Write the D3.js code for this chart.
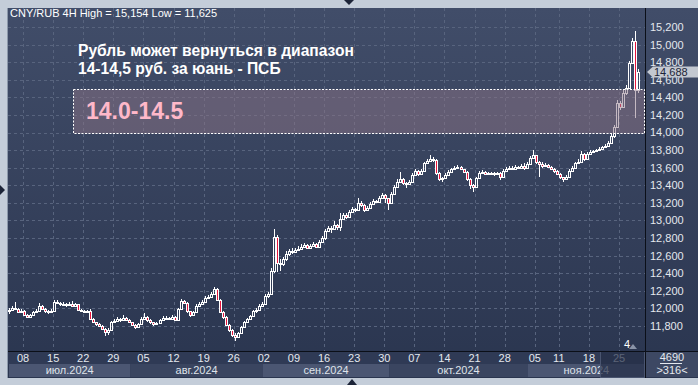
<!DOCTYPE html>
<html>
<head>
<meta charset="utf-8">
<script src="https://cdn.jsdelivr.net/npm/d3@7"></script>
<style>
body { margin: 0; background: #c4cdd9; }
svg { display: block; font-family: "Liberation Sans", Arial, sans-serif; }
</style>
</head>
<body>
<div id="chart"></div>
<script>
// CNY/RUB 4H candles, Jul 4 - Nov 28 2024 (two bars per trading day)
const firstOpen = 11970;
const closes = [
    11985, 12010, 11990, 11960, 11975, 11930, 11905, 11920, 11955, 11970,
    12030, 11990, 11965, 11955, 11975, 12075, 12060, 12045, 12050, 12040,
    12050, 12030, 12045, 11985, 11975, 11970, 11975, 11880, 11840, 11820,
    11800, 11770, 11730, 11760, 11840, 11860, 11880, 11865, 11890, 11870,
    11840, 11810, 11790, 11820, 11880, 11900, 11870, 11840, 11820, 11835,
    11870, 11890, 11895, 11880, 11900, 11865, 11990, 12085, 12065, 11965,
    11930, 11960, 12030, 12055, 12075, 12120, 12135, 12165, 12220, 12095,
    11960, 11900, 11810, 11750, 11700, 11680, 11720, 11790, 11840, 11880,
    11910, 11965, 11980, 12030, 12050, 12140, 12160, 12430, 12810, 12520,
    12500, 12560, 12620, 12650, 12640, 12660, 12680, 12700, 12720, 12690,
    12710, 12730, 12700, 12760, 12800, 12880, 12920, 12900, 12950, 12930,
    13020, 13060, 13040, 13100, 13130, 13120, 13200, 13180, 13120, 13140,
    13190, 13220, 13210, 13260, 13290, 13250, 13200, 13300, 13380, 13440,
    13470, 13430, 13410, 13440, 13520, 13560, 13530, 13560, 13650, 13680,
    13700, 13690, 13540, 13470, 13480, 13520, 13550, 13580, 13600, 13610,
    13580, 13550, 13470, 13400, 13380, 13480, 13540, 13550, 13530, 13540,
    13535, 13525, 13540, 13490, 13560, 13590, 13600, 13590, 13610, 13600,
    13620, 13600, 13640, 13710, 13740, 13660, 13640, 13620, 13630, 13610,
    13580, 13560, 13530, 13490, 13470, 13500, 13560, 13600, 13650, 13670,
    13760, 13700, 13760, 13780, 13790, 13800, 13810, 13830, 13850, 13880,
    13960, 14060, 14340, 14290, 14450, 14510, 14790, 15040, 14480, 14688
];
const highs = [
    12000, 12030, 12073, 12005, 11990, 11985, 11940, 11935, 11970, 11990,
    12065, 12040, 12000, 11980, 11990, 12095, 12090, 12070, 12075, 12060,
    12070, 12080, 12060, 12050, 11990, 11985, 11985, 11990, 11895, 11850,
    11830, 11810, 11780, 11775, 11855, 11880, 11900, 11890, 11920, 11900,
    11880, 11850, 11820, 11835, 11900, 11950, 11910, 11880, 11850, 11850,
    11885, 11910, 11915, 11905, 11920, 11910, 12005, 12110, 12100, 12075,
    11975, 11975, 12045, 12070, 12090, 12140, 12155, 12185, 12245, 12230,
    12105, 11975, 11910, 11825, 11765, 11720, 11735, 11805, 11860, 11895,
    11930, 11980, 12000, 12050, 12070, 12160, 12190, 12460, 12900, 12830,
    12560, 12580, 12650, 12680, 12690, 12690, 12710, 12730, 12740, 12730,
    12730, 12750, 12740, 12780, 12820, 12900, 12940, 12935, 12990, 12960,
    13080, 13085, 13080, 13120, 13150, 13145, 13260, 13220, 13190, 13160,
    13210, 13240, 13235, 13280, 13310, 13300, 13260, 13320, 13400, 13470,
    13550, 13480, 13440, 13460, 13540, 13580, 13570, 13580, 13670, 13700,
    13740, 13720, 13700, 13550, 13500, 13540, 13570, 13600, 13620, 13630,
    13620, 13590, 13560, 13480, 13420, 13500, 13560, 13570, 13560, 13555,
    13555, 13550, 13555, 13550, 13590, 13610, 13620, 13615, 13630, 13625,
    13640, 13650, 13660, 13730, 13800, 13750, 13680, 13660, 13650, 13645,
    13620, 13595, 13570, 13540, 13500, 13520, 13580, 13620, 13670, 13700,
    13790, 13770, 13775, 13800, 13805, 13815, 13830, 13850, 13870, 13900,
    13990, 14090, 14370, 14360, 14480, 14540, 14810, 15080, 15154, 14720
];
const lows = [
    11940, 11975, 11980, 11950, 11945, 11920, 11890, 11895, 11910, 11945,
    11960, 11980, 11950, 11940, 11945, 11970, 12045, 12030, 12035, 12020,
    12030, 12020, 12020, 11975, 11965, 11960, 11960, 11870, 11830, 11805,
    11785, 11750, 11690, 11700, 11750, 11830, 11850, 11850, 11855, 11860,
    11830, 11795, 11770, 11780, 11810, 11870, 11850, 11820, 11800, 11810,
    11825, 11860, 11880, 11865, 11870, 11855, 11860, 11980, 12050, 11950,
    11905, 11920, 11950, 12020, 12045, 12065, 12110, 12125, 12150, 12085,
    11950, 11885, 11795, 11730, 11680, 11625, 11660, 11710, 11780, 11830,
    11870, 11900, 11950, 11970, 12020, 12040, 12120, 12150, 12400, 12415,
    12420, 12480, 12540, 12600, 12620, 12630, 12650, 12665, 12690, 12670,
    12680, 12700, 12690, 12690, 12750, 12780, 12870, 12860, 12890, 12890,
    12880, 13000, 13020, 13030, 13090, 13100, 13110, 13150, 13100, 13110,
    13130, 13180, 13195, 13200, 13250, 13200, 13120, 13190, 13290, 13370,
    13430, 13400, 13370, 13400, 13430, 13510, 13510, 13520, 13550, 13640,
    13670, 13670, 13520, 13450, 13440, 13470, 13510, 13540, 13570, 13590,
    13570, 13540, 13450, 13360, 13320, 13370, 13470, 13530, 13520, 13520,
    13520, 13510, 13515, 13460, 13480, 13550, 13580, 13575, 13580, 13590,
    13590, 13570, 13590, 13630, 13700, 13640, 13500, 13600, 13610, 13595,
    13570, 13545, 13515, 13470, 13440, 13460, 13490, 13550, 13590, 13640,
    13660, 13680, 13690, 13750, 13770, 13780, 13790, 13800, 13820, 13840,
    13870, 13940, 14050, 14260, 14280, 14430, 14500, 14780, 14170, 14450
];

// trading-day index of each week label (Jul 4 = day 0)
const tickDays = [2, 7, 12, 17, 22, 27, 32, 37, 42, 47, 52, 57, 62, 67, 72, 77, 82, 87, 91, 96, 101];
const tickLabels = ["08", "15", "22", "29", "05", "12", "19", "26", "02", "09", "16", "23", "30",
    "07", "14", "21", "28", "05", "11", "18", "25"];
const monthLabels = ["июл.2024", "авг.2024", "сен.2024", "окт.2024", "ноя.2024"];
const monthStartDays = [0, 20, 42, 63, 86];
const priceTicks = [11800, 12000, 12200, 12400, 12600, 12800, 13000, 13200, 13400,
    13600, 13800, 14000, 14200, 14400, 14600, 14800, 15000, 15200];
const lastPrice = 14688;
const zoneLow = 14000, zoneHigh = 14500, zoneStartBar = 21.1;

const W = 698, H = 385;
const plot = { l: 8, t: 8, r: 645, b: 351 };
const barsPerDay = 2;

const x = d3.scaleLinear().domain([0, 209]).range([9.5, 638.6]);
const y = d3.scaleLinear().domain([11800, 15200]).range([326, 27]);
const fmt = d3.format(",");

const svg = d3.select('#chart').append('svg')
    .attr('width', W)
    .attr('height', H);

const grad = svg.append('defs').append('linearGradient')
    .attr('id', 'bg').attr('x1', 0).attr('y1', 0).attr('x2', 0).attr('y2', 1);
grad.append('stop').attr('offset', '0%').attr('stop-color', '#414d69');
grad.append('stop').attr('offset', '100%').attr('stop-color', '#2a354f');

svg.append('rect').attr('width', W).attr('height', H).attr('fill', '#c4cdd9');
svg.append('rect')
    .attr('x', plot.l).attr('y', plot.t)
    .attr('width', W - plot.l).attr('height', 378 - plot.t)
    .attr('fill', 'url(#bg)');
svg.append('line')
    .attr('x1', plot.l - 0.5).attr('x2', plot.l - 0.5)
    .attr('y1', plot.t).attr('y2', 378)
    .attr('stroke', '#8d99ab');

// splitter handles on the frame
svg.append('path').attr('d', 'M344,0L354,0L349,5Z').attr('fill', '#1c2438');
svg.append('path').attr('d', 'M347,385L357,385L352,379Z').attr('fill', '#1c2438');
svg.append('path').attr('d', 'M0,185L0,195L5,190Z').attr('fill', '#1c2438');

// grid
const tickX = d => Math.round(x(d * barsPerDay + 0.5)) + 0.5;
svg.append('g')
    .selectAll('line')
    .data(priceTicks)
    .join('line')
    .attr('x1', plot.l).attr('x2', plot.r)
    .attr('y1', d => Math.round(y(d)) + 0.5)
    .attr('y2', d => Math.round(y(d)) + 0.5)
    .attr('stroke', '#58647e')
    .attr('stroke-dasharray', '3,3');
svg.append('g')
    .selectAll('line')
    .data(tickDays)
    .join('line')
    .attr('x1', tickX).attr('x2', tickX)
    .attr('y1', plot.t).attr('y2', plot.b)
    .attr('stroke', '#58647e')
    .attr('stroke-dasharray', '3,3');

// candles
const candles = closes.map((c, i) => ({
    i, c,
    o: i ? closes[i - 1] : firstOpen,
    h: highs[i],
    l: lows[i]
}));
const candle = svg.append('g')
    .selectAll('g')
    .data(candles)
    .join('g');
const cxOf = d => Math.floor(x(d.i));
const topOf = d => Math.round(y(Math.max(d.o, d.c)));
const botOf = d => Math.max(topOf(d) + 1, Math.round(y(Math.min(d.o, d.c))));
candle.append('line')
    .attr('x1', d => cxOf(d) + 0.5).attr('x2', d => cxOf(d) + 0.5)
    .attr('y1', d => Math.round(y(d.h))).attr('y2', topOf)
    .attr('stroke', '#ffffff');
candle.append('line')
    .attr('x1', d => cxOf(d) + 0.5).attr('x2', d => cxOf(d) + 0.5)
    .attr('y1', botOf).attr('y2', d => Math.round(y(d.l)))
    .attr('stroke', '#ffffff');
candle.append('rect')
    .attr('x', d => cxOf(d) - 0.5)
    .attr('y', d => topOf(d) + 0.5)
    .attr('width', 2)
    .attr('height', d => botOf(d) - topOf(d))
    .attr('fill', d => d.c < d.o ? '#e8143c' : 'none')
    .attr('stroke', '#ffffff');

// target zone box
svg.append('rect')
    .attr('x', Math.round(x(zoneStartBar)) + 0.5)
    .attr('y', Math.round(y(zoneHigh)) + 0.5)
    .attr('width', plot.r - Math.round(x(zoneStartBar)) - 1)
    .attr('height', Math.round(y(zoneLow)) - Math.round(y(zoneHigh)))
    .attr('fill', '#8c7385')
    .attr('fill-opacity', 0.5)
    .attr('stroke', '#ffffff')
    .attr('stroke-dasharray', '2,1.5');
svg.append('text')
    .attr('x', 86).attr('y', 119)
    .attr('fill', '#ffb8c9')
    .attr('font-size', 23)
    .attr('font-weight', 'bold')
    .text('14.0-14.5');

svg.append('text')
    .attr('x', 78).attr('y', 55.5)
    .attr('fill', '#ffffff')
    .attr('font-size', 15.6)
    .attr('font-weight', 'bold')
    .text('Рубль может вернуться в диапазон');
svg.append('text')
    .attr('x', 78).attr('y', 73.5)
    .attr('fill', '#ffffff')
    .attr('font-size', 15.6)
    .attr('font-weight', 'bold')
    .text('14-14,5 руб. за юань - ПСБ');

svg.append('text')
    .attr('x', 10).attr('y', 17)
    .attr('fill', '#ffffff')
    .attr('font-size', 11)
    .text(`CNY/RUB 4H High = ${fmt(d3.max(highs))} Low = ${fmt(d3.min(lows))}`);

// bar counter marker
svg.append('text')
    .attr('x', 624).attr('y', 348)
    .attr('fill', '#ffffff')
    .attr('font-size', 11)
    .text('4');
svg.append('path').attr('d', 'M629,349L633,344L637,349Z').attr('fill', '#8a94a8');

// bottom axis
svg.append('rect')
    .attr('x', plot.l).attr('y', plot.b)
    .attr('width', plot.r - plot.l).attr('height', 13)
    .attr('fill', '#2f3a55');
const monthEdges = monthStartDays.map((d, k) => k ? x(d * barsPerDay) + 0.5 : plot.l + 1);
monthEdges.push(plot.r);
svg.append('g')
    .selectAll('rect')
    .data(monthLabels)
    .join('rect')
    .attr('x', (d, k) => monthEdges[k])
    .attr('y', 364)
    .attr('width', (d, k) => monthEdges[k + 1] - monthEdges[k])
    .attr('height', 13)
    .attr('fill', (d, k) => k % 2 ? '#3a4560' : '#4b5672');
svg.append('g')
    .selectAll('text')
    .data(monthLabels)
    .join('text')
    .attr('x', (d, k) => (monthEdges[k] + monthEdges[k + 1]) / 2)
    .attr('y', 374)
    .attr('text-anchor', 'middle')
    .attr('fill', '#dfe3ea')
    .attr('font-size', 11)
    .text(d => d);
svg.append('g')
    .selectAll('text')
    .data(tickDays)
    .join('text')
    .attr('x', d => x(d * barsPerDay + 0.5))
    .attr('y', 362)
    .attr('text-anchor', 'middle')
    .attr('fill', '#e4e8ee')
    .attr('font-size', 11)
    .text((d, k) => tickLabels[k]);
svg.append('rect')
    .attr('x', Math.round(x(197)) - 1.5).attr('y', plot.b + 0.5)
    .attr('width', plot.r - Math.round(x(197)) + 1).attr('height', 26)
    .attr('fill', '#252f48')
    .attr('fill-opacity', 0.72)
    .attr('stroke', '#4a5570');

// right axis
svg.append('g')
    .selectAll('text')
    .data(priceTicks)
    .join('text')
    .attr('x', 650)
    .attr('y', d => y(d))
    .attr('dy', '0.36em')
    .attr('fill', '#e4e8ee')
    .attr('font-size', 11)
    .text(d => fmt(d));

// last price tag
const ly = Math.round(y(lastPrice));
svg.append('path')
    .attr('d', `M647,${ly}L653,${ly - 5.5}L698,${ly - 5.5}L698,${ly + 5.5}L653,${ly + 5.5}Z`)
    .attr('fill', '#c3c8d1');
svg.append('text')
    .attr('x', 654).attr('y', ly)
    .attr('dy', '0.36em')
    .attr('fill', '#1c2438')
    .attr('font-size', 11)
    .text(fmt(lastPrice));

// corner counter box
svg.append('rect')
    .attr('x', plot.r).attr('y', plot.b)
    .attr('width', W - plot.r).attr('height', 26)
    .attr('fill', '#3d4863');
svg.append('text')
    .attr('x', 672).attr('y', 361)
    .attr('text-anchor', 'middle')
    .attr('fill', '#e4e8ee')
    .attr('font-size', 11)
    .text('4690');
svg.append('line')
    .attr('x1', 660).attr('x2', 682)
    .attr('y1', 363.5).attr('y2', 363.5)
    .attr('stroke', '#e4e8ee');
svg.append('text')
    .attr('x', 672).attr('y', 374)
    .attr('text-anchor', 'middle')
    .attr('fill', '#e4e8ee')
    .attr('font-size', 11)
    .text('>316<');

// frame lines
svg.append('line')
    .attr('x1', plot.l).attr('x2', W)
    .attr('y1', plot.b + 0.5).attr('y2', plot.b + 0.5)
    .attr('stroke', '#0b0f18');
svg.append('line')
    .attr('x1', plot.r + 0.5).attr('x2', plot.r + 0.5)
    .attr('y1', plot.t).attr('y2', 378)
    .attr('stroke', '#0b0f18');
</script>
</body>
</html>
